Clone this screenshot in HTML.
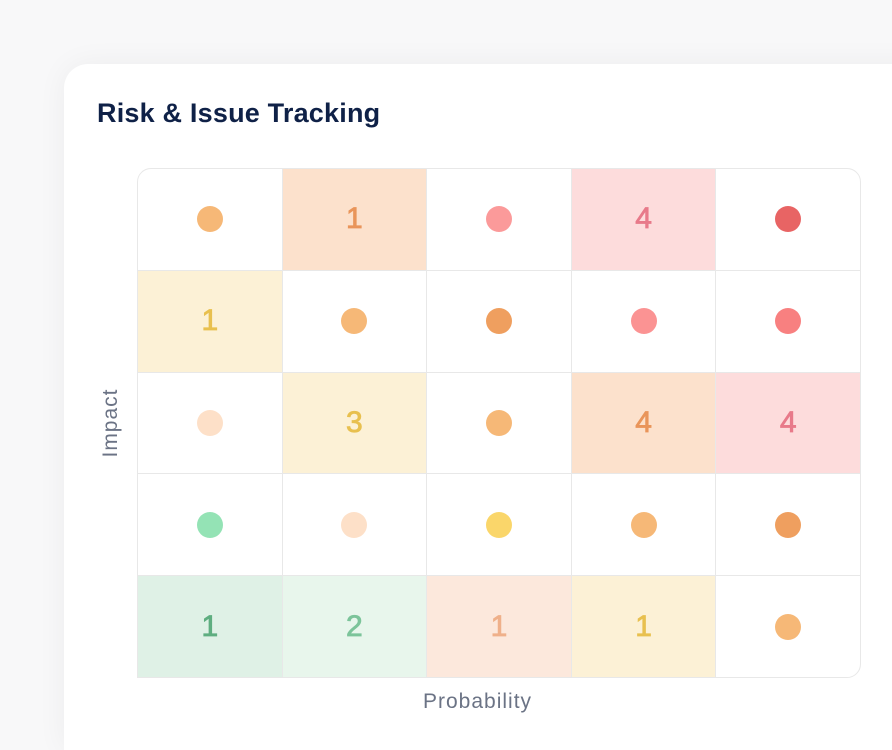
<!DOCTYPE html>
<html style="overflow:hidden"><head><style>
html,body{margin:0;width:892px;height:750px;overflow:hidden}
body{background:#f8f8f9;font-family:"Liberation Sans",sans-serif;position:relative}
.card{position:absolute;left:64px;top:64px;width:900px;height:686px;background:#fff;border-radius:24px 24px 0 0;box-shadow:0 0 30px rgba(0,0,0,0.05)}
h1{position:absolute;left:97px;top:98px;margin:0;font-size:27px;font-weight:bold;color:#0f2147;letter-spacing:0.2px}
.c{position:absolute;box-sizing:border-box;border:1px solid #e8e8e8;display:flex;align-items:center;justify-content:center;font-size:30px;font-weight:normal;-webkit-text-stroke:0.8px currentColor}
.d{width:26px;height:26px;border-radius:50%}
.lab{position:absolute;color:#6b7385;font-size:21px;letter-spacing:1px;white-space:nowrap}
</style></head><body>
<div class="card"></div>
<h1>Risk &amp; Issue Tracking</h1>
<div id="g"></div>
<div class="lab" style="left:423px;top:690px">Probability</div>
<div class="lab" style="left:111px;top:423px;transform:translate(-50%,-50%) rotate(-90deg)">Impact</div>
<script>
const D=(c)=>({d:c}),N=(b,t,n)=>({b,t,n});
const rows=[
[D('#f6b877'),N('#fce1cc','#e9955a',1),D('#fb9a9a'),N('#fddcdc','#e87a8a',4),D('#e86464')],
[N('#fcf1d6','#e8c04f',1),D('#f6b877'),D('#ef9f5f'),D('#fb9393'),D('#f88080')],
[D('#fde0c8'),N('#fcf1d6','#e8c04f',3),D('#f6b877'),N('#fce1cc','#e9955a',4),N('#fddcdc','#e87a8a',4)],
[D('#94e3b5'),D('#fde0c8'),D('#fad66a'),D('#f6b877'),D('#ef9f5f')],
[N('#dff1e6','#5fae80',1),N('#e8f6ec','#7cc49a',2),N('#fce8dc','#efb08a',1),N('#fcf1d6','#e8c04f',1),D('#f6b877')]];
let h='';const x0=137,y0=168,w=144.6,hh=101.8;
rows.forEach((r,i)=>r.forEach((c,j)=>{
let rad='';if(i==0&&j==0)rad='border-top-left-radius:14px;';if(i==0&&j==4)rad='border-top-right-radius:14px;';
if(i==4&&j==0)rad='border-bottom-left-radius:14px;';if(i==4&&j==4)rad='border-bottom-right-radius:14px;';
if(c.n&&rad)rad='';
h+=`<div class="c" style="left:${x0+j*w}px;top:${y0+i*hh}px;width:${w+1}px;height:${hh+1}px;background:${c.b||'#fff'};color:${c.t||''};${rad}">${c.d?`<div class="d" style="background:${c.d}"></div>`:c.n}</div>`;
}));
document.getElementById('g').innerHTML=h;
</script>
</body></html>
